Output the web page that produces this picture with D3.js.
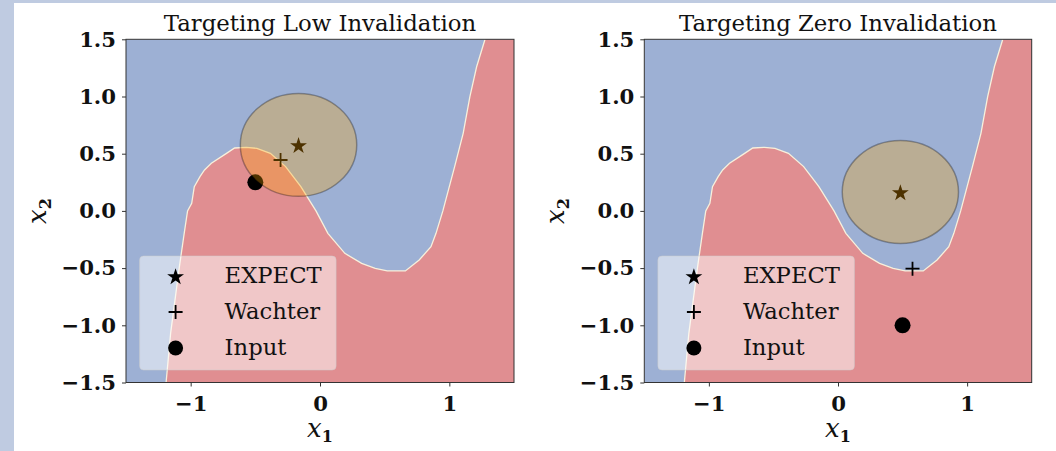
<!DOCTYPE html>
<html>
<head>
<meta charset="utf-8">
<script src="https://cdn.jsdelivr.net/npm/d3@7"></script>
<style>
  body { margin: 0; background: #fff; }
  svg { display: block; }
</style>
</head>
<body>
<div id="chart"></div>
<script>
// data (both panels share the same classifier boundary)
const xTickVals = [-1, 0, 1];
const yTickVals = [-1.5, -1.0, -0.5, 0.0, 0.5, 1.0, 1.5];
const panelTitles = ['Targeting Low Invalidation', 'Targeting Zero Invalidation'];
const legendLabels = ['EXPECT', 'Wachter', 'Input'];

const boundaryX = [-1.19, -1.155, -1.089, -1.05, -1.024, -0.992, -0.972, -0.928, -0.893, -0.84, -0.723, -0.66,
                   -0.57, -0.488, -0.384, -0.266, -0.148, -0.083, -0.031, 0.061, 0.192, 0.322, 0.427, 0.52,
                   0.66, 0.767, 0.858, 0.897, 0.95, 1.041, 1.107, 1.159, 1.211, 1.276];
const boundaryY = [-1.5, -1.07, -0.502, -0.196, 0.0, 0.066, 0.212, 0.30, 0.358, 0.416, 0.503, 0.55,
                   0.556, 0.547, 0.503, 0.387, 0.212, 0.095, 0.0, -0.196, -0.371, -0.458, -0.502, -0.525,
                   -0.525, -0.429, -0.313, -0.196, 0.0, 0.387, 0.678, 0.998, 1.26, 1.5];

const inputX = [-0.5, 0.5];
const inputY = [0.25, -1.0];
const wachterX = [-0.305, 0.577];
const wachterY = [0.445, -0.505];
const expectX = [-0.166, 0.483];
const expectY = [0.577, 0.165];
const expectRadius = [0.45, 0.45];

// layout
const W = 1056, H = 451;
const panels = [{ left: 126, right: 514 }, { left: 644.3, right: 1031.7 }];
const plotTop = 39.3, plotBottom = 382.5;
const blue = '#9db0d4', red = '#e08e91';
const serif = '"DejaVu Serif", serif';

const svg = d3.select('#chart').append('svg')
    .attr('width', W)
    .attr('height', H);

svg.append('rect').attr('width', W).attr('height', H).attr('fill', '#fff');
svg.append('rect').attr('width', 14).attr('height', H).attr('fill', '#bfcbe1');
svg.append('rect').attr('width', W).attr('height', 3).attr('fill', '#bfcbe1');

// matplotlib style '+' marker
const plusPath = (cx, cy, h) => {
    let p = d3.path();
    p.moveTo(cx - h, cy); p.lineTo(cx + h, cy);
    p.moveTo(cx, cy - h); p.lineTo(cx, cy + h);
    return p.toString();
};
const star = d3.symbol().type(d3.symbolStar).size(88);

panels.forEach((pan, i) => {
    let x = d3.scaleLinear().domain([-1.5, 1.5]).range([pan.left, pan.right]);
    let y = d3.scaleLinear().domain([-1.5, 1.5]).range([plotBottom, plotTop]);
    let g = svg.append('g');

    let clipId = 'clip' + i;
    g.append('clipPath').attr('id', clipId)
        .append('rect')
            .attr('x', pan.left).attr('y', plotTop)
            .attr('width', pan.right - pan.left).attr('height', plotBottom - plotTop);

    let plot = g.append('g').attr('clip-path', `url(#${clipId})`);
    plot.append('rect')
        .attr('x', pan.left).attr('y', plotTop)
        .attr('width', pan.right - pan.left).attr('height', plotBottom - plotTop)
        .attr('fill', blue);

    let pts = boundaryX.map((bx, k) => [bx, boundaryY[k]]);
    let line = d3.line().x(d => x(d[0])).y(d => y(d[1]));
    plot.append('path')
        .attr('d', line(pts.concat([[1.6, 1.5], [1.6, -1.6], [-1.19, -1.6]])) + 'Z')
        .attr('fill', red);
    plot.append('path')
        .attr('d', line(pts))
        .attr('fill', 'none')
        .attr('stroke', '#f7f0dc')
        .attr('stroke-width', 1.3);

    // markers
    plot.append('circle')
        .attr('cx', x(inputX[i])).attr('cy', y(inputY[i])).attr('r', 8)
        .attr('fill', '#000');
    plot.append('path')
        .attr('d', plusPath(x(wachterX[i]), y(wachterY[i]), 7))
        .attr('stroke', '#000').attr('stroke-width', 1.8).attr('fill', 'none');
    plot.append('path')
        .attr('transform', `translate(${x(expectX[i])},${y(expectY[i]) + 1})`)
        .attr('d', star())
        .attr('fill', '#000');
    plot.append('ellipse')
        .attr('cx', x(expectX[i])).attr('cy', y(expectY[i]))
        .attr('rx', x(expectRadius[i]) - x(0)).attr('ry', y(0) - y(expectRadius[i]))
        .attr('fill', '#ffa500').attr('fill-opacity', 0.3)
        .attr('stroke', '#000').attr('stroke-opacity', 0.3).attr('stroke-width', 1.5);

    // legend
    let lg = g.append('g').attr('transform', `translate(${pan.left + 13.6},256)`);
    lg.append('rect')
        .attr('width', 196.5).attr('height', 114).attr('rx', 4)
        .attr('fill', '#fff').attr('fill-opacity', 0.5)
        .attr('stroke', '#ccc').attr('stroke-opacity', 0.5);
    let rows = [20, 56, 92];
    lg.append('path').attr('transform', `translate(36,${rows[0] + 1})`).attr('d', star()).attr('fill', '#000');
    lg.append('path').attr('d', plusPath(36, rows[1], 7))
        .attr('stroke', '#000').attr('stroke-width', 1.8);
    lg.append('circle').attr('cx', 36).attr('cy', rows[2]).attr('r', 7.5).attr('fill', '#000');
    lg.selectAll('text.lab').data(legendLabels).enter().append('text')
        .attr('class', 'lab')
        .attr('x', 85).attr('y', (d, k) => rows[k] + 7)
        .attr('font-family', serif).attr('font-size', 22.7).attr('fill', '#111')
        .text(d => d);

    // frame
    g.append('rect')
        .attr('x', pan.left).attr('y', plotTop)
        .attr('width', pan.right - pan.left).attr('height', plotBottom - plotTop)
        .attr('fill', 'none').attr('stroke', '#333').attr('stroke-width', 1);

    // axes
    let xAxis = d3.axisBottom(x).tickValues(xTickVals).tickSize(4).tickPadding(9).tickFormat(d3.format('d'));
    let yAxis = d3.axisLeft(y).tickValues(yTickVals).tickSize(4).tickPadding(6).tickFormat(d3.format('.1f'));
    [g.append('g').attr('transform', `translate(0,${plotBottom})`).call(xAxis),
     g.append('g').attr('transform', `translate(${pan.left},0)`).call(yAxis)].forEach(ax => {
        ax.select('.domain').remove();
        ax.selectAll('line').attr('stroke', '#333');
        ax.selectAll('text')
            .attr('font-family', serif).attr('font-size', 21.2).attr('font-weight', 'bold').attr('fill', '#111');
    });

    // title
    g.append('text')
        .attr('x', (pan.left + pan.right) / 2).attr('y', 31)
        .attr('text-anchor', 'middle')
        .attr('font-family', serif).attr('font-size', 22.8).attr('fill', '#111')
        .text(panelTitles[i]);

    // axis labels
    let xl = g.append('text')
        .attr('x', (pan.left + pan.right) / 2).attr('y', 437)
        .attr('text-anchor', 'middle')
        .attr('font-family', serif).attr('fill', '#111');
    xl.append('tspan').attr('font-style', 'italic').attr('font-size', 26).text('x');
    xl.append('tspan').attr('font-weight', 'bold').attr('font-size', 16).attr('dy', 5).text('1');

    let yl = g.append('text')
        .attr('transform', `translate(${pan.left - 80},211) rotate(-90)`)
        .attr('text-anchor', 'middle')
        .attr('font-family', serif).attr('fill', '#111');
    yl.append('tspan').attr('font-style', 'italic').attr('font-size', 26).text('x');
    yl.append('tspan').attr('font-weight', 'bold').attr('font-size', 16).attr('dy', 5).text('2');
});
</script>
</body>
</html>
